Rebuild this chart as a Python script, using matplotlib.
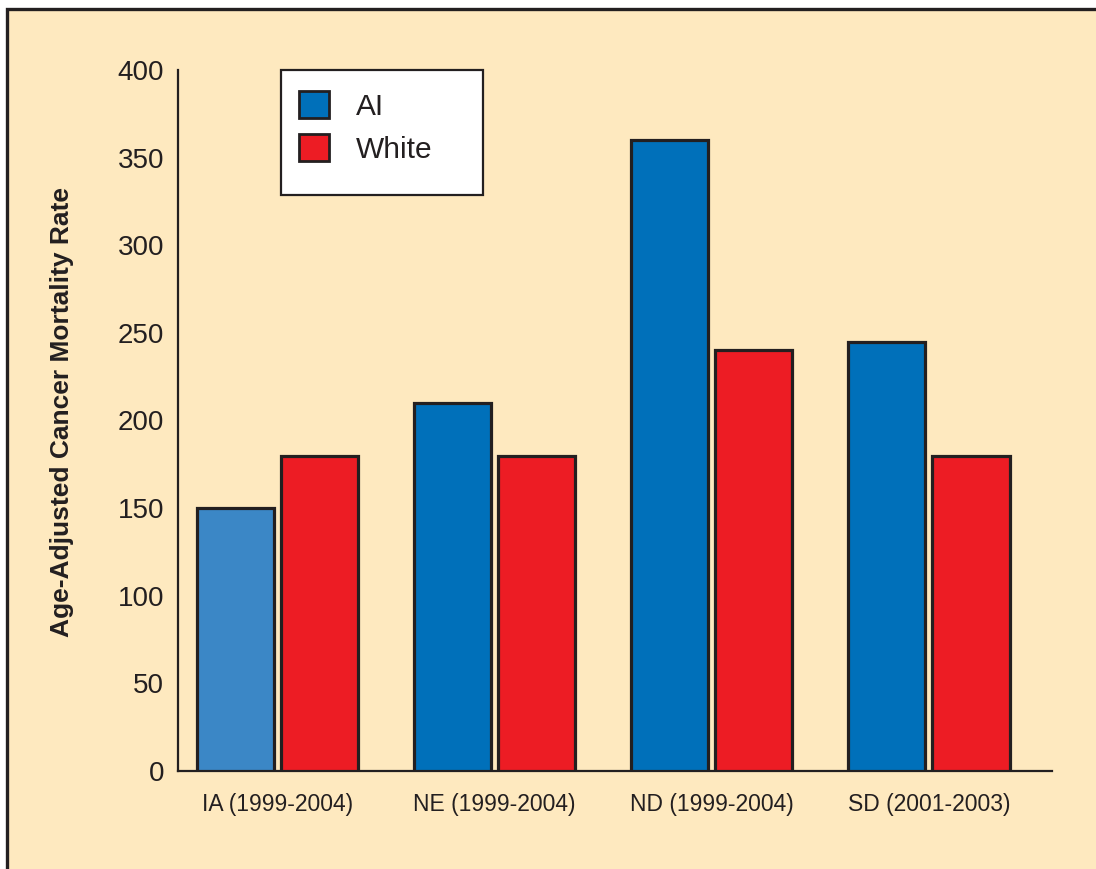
import numpy as np
import matplotlib.pyplot as plt
from matplotlib.patches import Rectangle, Patch
from matplotlib.transforms import ScaledTranslation

# -----------------------------
# Data
# -----------------------------
states = ["IA (1999-2004)", "NE (1999-2004)", "ND (1999-2004)", "SD (2001-2003)"]
ai_rates = [150, 210, 360, 245]
white_rates = [180, 180, 240, 180]
y_ticks = [0, 50, 100, 150, 200, 250, 300, 350, 400]

# -----------------------------
# Style
# -----------------------------
bg = "#FEE9BF"
ink = "#231F20"
blue = "#0070BA"
blue_light = "#3B87C6"
red = "#ED1C24"
ai_colors = [blue_light, blue, blue, blue]
plain = ["Liberation Sans", "DejaVu Sans"]

fig = plt.figure(figsize=(10.96, 8.69), dpi=100, facecolor="white")

# outer frame (open at right and bottom)
fig.patches.append(Rectangle((7 / 1096, -0.2), 1.2, 1 - 9 / 869 + 0.2,
                             transform=fig.transFigure, facecolor=bg,
                             edgecolor=ink, lw=2.4, zorder=-1))

ax = fig.add_axes([178 / 1096, 1 - 771 / 869, 874 / 1096, 701 / 869])
ax.set_facecolor("none")

x = np.arange(len(states))
w = 0.355
off = 0.194
ax.bar(x - off, ai_rates, w, color=ai_colors, edgecolor=ink, lw=2.3, zorder=3)
ax.bar(x + off, white_rates, w, color=red, edgecolor=ink, lw=2.3, zorder=3)

ax.set_xlim(-0.457, 3.567)
ax.set_ylim(0, 400)
ax.set_yticks(y_ticks)
ax.set_xticks(x)
ax.set_xticklabels(states, family=plain, fontsize=16.5, color=ink)
for lab in ax.get_yticklabels():
    lab.set_family(plain)
    lab.set_fontsize(20)
    lab.set_color(ink)
    lab.set_transform(lab.get_transform() + ScaledTranslation(0, -4 / 100, fig.dpi_scale_trans))
ax.tick_params(axis="y", length=0, pad=10)
ax.tick_params(axis="x", length=0, pad=16)

for s in ["top", "right"]:
    ax.spines[s].set_visible(False)
for s in ["left", "bottom"]:
    ax.spines[s].set_color(ink)
    ax.spines[s].set_linewidth(1.6)

ax.set_ylabel("Age-Adjusted Cancer Mortality Rate", family=plain,
              fontweight="bold", fontsize=19, color=ink, va="center")
ax.yaxis.set_label_coords(-0.1327, 0.512)

# legend box
ax.add_patch(Rectangle((103 / 874, (771 - 195) / 701), 202 / 874, 125 / 701,
                       transform=ax.transAxes, facecolor="white",
                       edgecolor=ink, lw=1.6, zorder=4, clip_on=False))
handles = [Patch(facecolor=blue, edgecolor=ink, lw=2.0, label="AI"),
           Patch(facecolor=red, edgecolor=ink, lw=2.0, label="White")]
leg = ax.legend(handles=handles, loc="upper left",
                bbox_to_anchor=(121 / 874, (771 - 91) / 701),
                frameon=False, fontsize=21.5, handlelength=1.0, handleheight=1.0,
                handletextpad=0.9, labelspacing=0.46, borderpad=0, borderaxespad=0)
leg.set_zorder(5)
for t in leg.get_texts():
    t.set_color(ink)
    t.set_family(plain)

plt.savefig("out.png", dpi=100, facecolor="white")
